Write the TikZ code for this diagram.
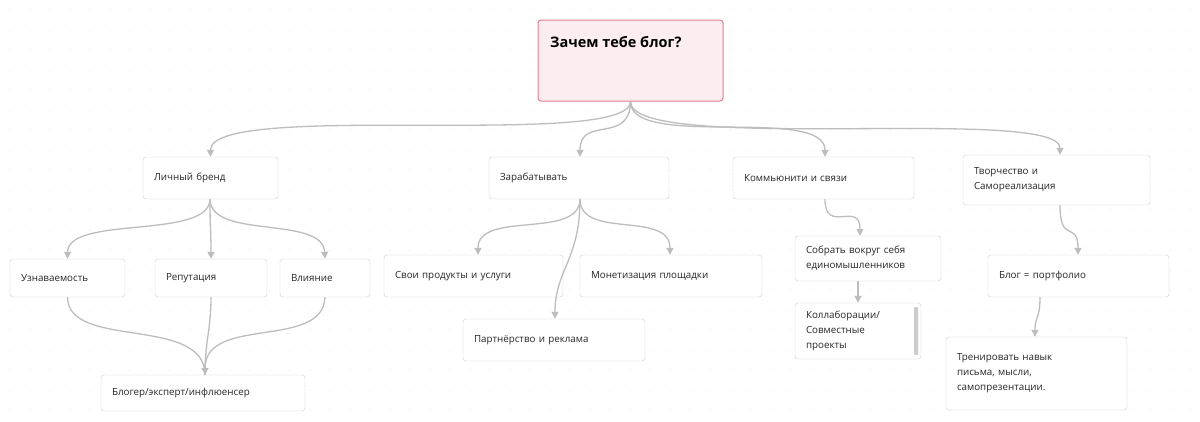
\documentclass[tikz,border=0pt]{standalone}
\usepackage{fontspec}
\setmainfont{Open Sans}
\usetikzlibrary{arrows.meta}
\definecolor{ln}{HTML}{BDBDBD}
\definecolor{bd}{HTML}{CFCFCF}
\definecolor{rootfill}{HTML}{FCEEF0}
\definecolor{rootbd}{HTML}{E27D8D}
\tikzset{
 box/.style={draw=bd,fill=white,rounded corners=3pt,inner xsep=11pt,inner ysep=3pt,align=left,font=\fontsize{9.8}{15}\selectfont,text=black!85},
 conn/.style={draw=ln,line width=1.3pt,-{Triangle[length=7pt,width=7pt]}},
 connp/.style={draw=ln,line width=1.3pt},
}
\newcommand\bx[6]{\pgfmathsetmacro\bw{#4-#2}\pgfmathsetmacro\bh{#5-#3}\pgfmathsetmacro\tw{#4-#2-22}%
\node[box,minimum width=\bw pt,minimum height=\bh pt,text width=\tw pt] (#1) at ({(#2+#4)/2},{(#3+#5)/2}) {#6};}
\begin{document}
\begin{tikzpicture}[x=1pt,y=-1pt]
\fill[white] (0,0) rectangle (1200,421);
\useasboundingbox (0,0) rectangle (1200,421);
\foreach \i in {10,30,...,1190}{\foreach \j in {10,30,...,410}{\fill[black!22] (\i,\j) circle (0.5);}}
% nodes
\node[draw=rootbd,line width=1pt,fill=rootfill,rounded corners=3pt,minimum width=185pt,minimum height=81pt,inner sep=0pt] (root) at (630.5,60.5) {};
\node[anchor=north west,font=\fontsize{14.5}{16}\selectfont\bfseries,inner sep=0pt] (roott) at (550,36) {Зачем тебе блог?};
\bx{lb}{143}{157}{278}{199}{Личный бренд}
\bx{zr}{489}{157}{669}{199}{Зарабатывать}
\bx{ks}{733}{157}{914}{199}{Коммьюнити и связи}
\bx{tv}{963}{155}{1150}{205}{Творчество и\\Самореализация}
\bx{uz}{10}{259}{125}{297}{Узнаваемость}
\bx{rp}{155}{259}{267}{297}{Репутация}
\bx{vl}{280}{259}{370}{297}{Влияние}
\bx{bl}{101}{375}{305}{411}{Блогер/эксперт/инфлюенсер}
\bx{sp}{384}{255}{563}{297}{Свои продукты и услуги}
\bx{mp}{580}{255}{762}{297}{Монетизация площадки}
\bx{pr}{463}{319}{645}{361}{Партнёрство и реклама}
\bx{sb}{795}{236}{941}{281}{Собрать вокруг себя\\единомышленников}
\bx{kl}{795}{303}{921}{359}{Коллаборации/\\Совместные\\проекты}
\fill[black!20,rounded corners=1pt] (914,307) rectangle (918,355);
\bx{bp}{988}{255}{1169}{297}{Блог = портфолио}
\bx{tr}{946}{337}{1127}{410}{Тренировать навык\\письма, мысли,\\самопрезентации.}
% connectors
\draw[conn] (root.south) .. controls (630,150) and (210,100) .. (lb.north);
\draw[conn] (root.south) .. controls (630,145) and (580,115) .. (zr.north-|580,0);
\draw[conn] (root.south) .. controls (630,150) and (825,105) .. (ks.north-|825,0);
\draw[conn] (root.south) .. controls (630,155) and (1060,105) .. (tv.north-|1060,0);
\coordinate (lbs) at (210,199);
\draw[conn] (lbs) .. controls (210,240) and (68,215) .. (uz.north);
\draw[conn] (lbs) .. controls (210,230) and (211,230) .. (rp.north);
\draw[conn] (lbs) .. controls (210,240) and (323,215) .. (vl.north);
\coordinate (bln) at (205,375);
\draw[connp] (uz.south) .. controls (68,350) and (205,315) .. (bln);
\draw[connp] (rp.south) .. controls (211,330) and (205,340) .. (bln);
\draw[conn] (vl.south) .. controls (323,350) and (205,315) .. (bln);
\coordinate (zrs) at (580,199);
\draw[conn] (zrs) .. controls (580,240) and (478,210) .. (sp.north-|478,0);
\draw[conn] (zrs) .. controls (580,240) and (670,210) .. (mp.north-|670,0);
\draw[conn] (zrs) .. controls (580,260) and (555,270) .. (pr.north-|555,0);
\draw[conn] (ks.south-|825,0) .. controls (825,235) and (860,200) .. (sb.north-|860,0);
\draw[conn] (sb.south-|858,0) -- (kl.north-|858,0);
\draw[conn] (tv.south-|1060,0) .. controls (1060,245) and (1078,220) .. (bp.north-|1078,0);
\draw[conn] (bp.south-|1040,0) .. controls (1040,320) and (1035,315) .. (tr.north-|1035,0);
\end{tikzpicture}
\end{document}
